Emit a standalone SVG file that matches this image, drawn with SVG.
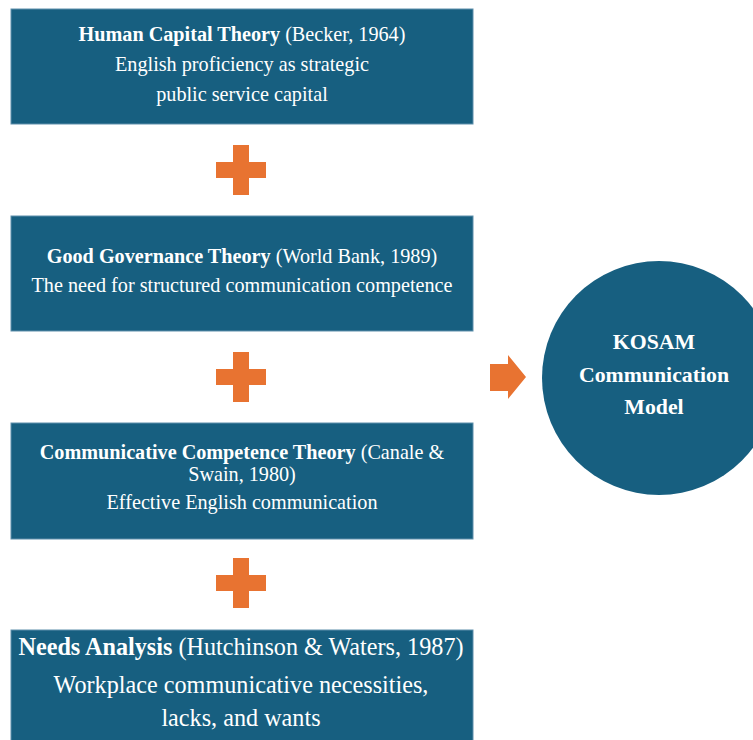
<svg xmlns="http://www.w3.org/2000/svg" width="753" height="740" viewBox="0 0 753 740">
  <style>
    .box { fill: #175f80; stroke: #5e8fab; stroke-width: 1; }
    .plus { fill: #e87331; }
    .t { font-family: "Liberation Serif", "Times New Roman", serif; fill: #ffffff; text-anchor: middle; }
    .s18 { font-size: 20.2px; }
    .s21 { font-size: 24.2px; }
    .b { font-weight: bold; }
  </style>
  <defs>
    <path id="plus" d="M-8,-25 H8 V-8 H25 V8 H8 V25 H-8 V8 H-25 V-8 H-8 Z"/>
  </defs>
  <rect width="753" height="740" fill="#ffffff"/>

  <g id="human-capital">
    <rect class="box" x="11" y="9" width="462" height="115"/>
    <text class="t s18" x="242" y="41"><tspan class="b">Human Capital Theory</tspan> (Becker, 1964)</text>
    <text class="t s18" x="242" y="71">English proficiency as strategic</text>
    <text class="t s18" x="242" y="101">public service capital</text>
  </g>

  <g id="good-governance">
    <rect class="box" x="11" y="216" width="462" height="115"/>
    <text class="t s18" x="242" y="263"><tspan class="b">Good Governance Theory</tspan> (World Bank, 1989)</text>
    <text class="t s18" x="242" y="292">The need for structured communication competence</text>
  </g>

  <g id="communicative-competence">
    <rect class="box" x="11" y="423" width="462" height="116"/>
    <text class="t s18" x="242" y="459"><tspan class="b">Communicative Competence Theory</tspan> (Canale &amp;</text>
    <text class="t s18" x="242" y="481">Swain, 1980)</text>
    <text class="t s18" x="242" y="509">Effective English communication</text>
  </g>

  <g id="needs-analysis">
    <rect class="box" x="11" y="630" width="462" height="115"/>
    <text class="t s21" x="241" y="655"><tspan class="b">Needs Analysis</tspan> (Hutchinson &amp; Waters, 1987)</text>
    <text class="t s21" x="241" y="693">Workplace communicative necessities,</text>
    <text class="t s21" x="241" y="726">lacks, and wants</text>
  </g>

  <g id="kosam-model">
    <circle cx="659" cy="378" r="117" fill="#175f80"/>
    <text class="t b" x="654" y="349" font-size="21.8">KOSAM</text>
    <text class="t b" x="654" y="382" font-size="21.8">Communication</text>
    <text class="t b" x="654" y="414" font-size="21.8">Model</text>
  </g>

  <g id="connectors">
    <use href="#plus" class="plus" x="241" y="170"/>
    <use href="#plus" class="plus" x="241" y="377"/>
    <use href="#plus" class="plus" x="241" y="583"/>
    <path class="plus" d="M490,364 H508 V355 L526,377 L508,399 V391 H490 Z"/>
  </g>
</svg>
